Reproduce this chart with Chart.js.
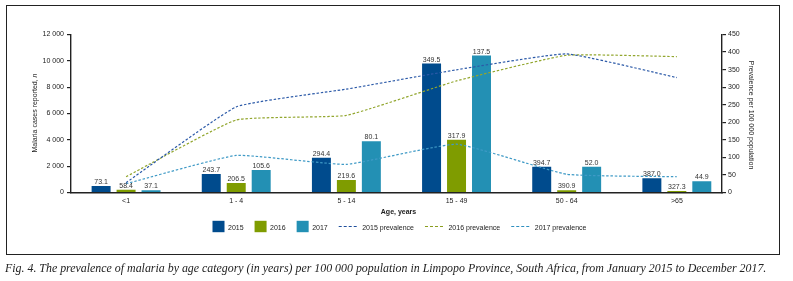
<!doctype html>
<html lang="en">
<head>
    <meta charset="UTF-8">
    <title>Malaria prevalence by age, Limpopo</title>
    <script src="https://cdn.jsdelivr.net/npm/chart.js"></script>
    <style>
        body { margin: 0; background: #fff; }
        #frame { position: absolute; left: 6px; top: 4.5px; width: 774px; height: 250.5px; border: 1.4px solid #222; box-sizing: border-box; }
        #wrap { position: absolute; left: 0; top: 0; width: 793px; height: 281px; }
        #caption { position: absolute; left: 5px; top: 261px; font: italic 11.9px "Liberation Serif", serif; color: #222; white-space: nowrap; }
    </style>
</head>
<body>
    <div id="frame"></div>
    <div id="wrap"><canvas id="malariaChart" width="793" height="281"></canvas></div>
    <div id="caption">Fig. 4. The prevalence of malaria by age category (in years) per 100 000 population in Limpopo Province, South Africa, from January 2015 to December 2017.</div>
    <script>
        const ageGroups = ['<1', '1 - 4', '5 - 14', '15 - 49', '50 - 64', '>65'];

        // cases reported (left axis)
        const cases2015 = [500, 1400, 2630, 9790, 1960, 1090];
        const cases2016 = [200, 730, 940, 4000, 175, 115];
        const cases2017 = [170, 1700, 3900, 10400, 1960, 860];

        // prevalence per 100 000 (right axis)
        const prev2015 = [28, 243.7, 294.4, 349.5, 394.7, 327.3];
        const prev2016 = [45, 206.5, 219.6, 317.9, 390.9, 387.0];
        const prev2017 = [25, 105.6, 80.1, 137.5, 52.0, 44.9];

        // numbers printed above the bars
        const barText2015 = ['73.1', '243.7', '294.4', '349.5', '394.7', '387.0'];
        const barText2016 = ['58.4', '206.5', '219.6', '317.9', '390.9', '327.3'];
        const barText2017 = ['37.1', '105.6', '80.1', '137.5', '52.0', '44.9'];

        const casesTicks = [0, 2000, 4000, 6000, 8000, 10000, 12000];
        const prevTicks = [0, 50, 100, 150, 200, 250, 300, 350, 400, 450];

        const FONT = '"Liberation Sans", Arial, sans-serif';
        const INK = '#222';
        const c2015 = '#004b8d', c2016 = '#7f9c00', c2017 = '#2390b4';

        // widen the category spacing a little so groups sit like the original
        const spacingPlugin = {
            id: 'spacing',
            afterLayout(chart) {
                const s = chart.scales.x;
                s._startValue = -0.5;
                s._valueRange = ageGroups.length - 0.09;
            }
        };

        const extrasPlugin = {
            id: 'extras',
            afterDatasetsDraw(chart) {
                const ctx = chart.ctx;
                ctx.save();
                ctx.font = '7px ' + FONT;
                ctx.fillStyle = '#333';
                ctx.textAlign = 'center';
                ctx.textBaseline = 'bottom';
                [barText2015, barText2016, barText2017].forEach((texts, k) => {
                    const meta = chart.getDatasetMeta(3 + k);
                    meta.data.forEach((bar, i) => ctx.fillText(texts[i], bar.x, bar.y - 0.5));
                });
                ctx.restore();
            },
            afterDraw(chart) {
                const ctx = chart.ctx;
                const area = chart.chartArea;
                ctx.save();
                ctx.fillStyle = INK;

                // x title
                ctx.font = 'bold 7px ' + FONT;
                ctx.textAlign = 'center';
                ctx.textBaseline = 'middle';
                ctx.fillText('Age, years', (area.left + area.right) / 2 + 2, 212);

                // left title
                ctx.save();
                ctx.translate(35, 113);
                ctx.rotate(-Math.PI / 2);
                const t1 = 'Malaria cases reported, ';
                ctx.font = 'italic 7px ' + FONT;
                const wn = ctx.measureText('n').width;
                ctx.font = '7px ' + FONT;
                const w1 = ctx.measureText(t1).width;
                ctx.textAlign = 'left';
                ctx.fillText(t1, -(w1 + wn) / 2, 0);
                ctx.font = 'italic 7px ' + FONT;
                ctx.fillText('n', -(w1 + wn) / 2 + w1, 0);
                ctx.restore();

                // right title
                ctx.save();
                ctx.translate(751, 115);
                ctx.rotate(Math.PI / 2);
                ctx.font = '7px ' + FONT;
                ctx.textAlign = 'center';
                ctx.fillText('Prevalence per 100 000 population', 0, 0);
                ctx.restore();

                // legend
                const items = [
                    { text: '2015', color: c2015, box: true },
                    { text: '2016', color: c2016, box: true },
                    { text: '2017', color: c2017, box: true },
                    { text: '2015 prevalence', color: '#1f4f9c', box: false },
                    { text: '2016 prevalence', color: '#8a9e1e', box: false },
                    { text: '2017 prevalence', color: '#2e8fbf', box: false }
                ];
                ctx.font = '7px ' + FONT;
                ctx.textAlign = 'left';
                const gap = 11;
                let total = 0;
                items.forEach(it => {
                    it.w = (it.box ? 12 : 20) + 3.5 + ctx.measureText(it.text).width;
                    total += it.w;
                });
                total += gap * (items.length - 1);
                let x = (area.left + area.right) / 2 + 3 - total / 2;
                const ly = 226.5;
                items.forEach(it => {
                    if (it.box) {
                        ctx.fillStyle = it.color;
                        ctx.fillRect(x, ly - 5.7, 12, 11.4);
                        x += 12;
                    } else {
                        ctx.strokeStyle = it.color;
                        ctx.lineWidth = 1.2;
                        ctx.setLineDash([3, 2]);
                        ctx.beginPath();
                        ctx.moveTo(x, ly);
                        ctx.lineTo(x + 20, ly);
                        ctx.stroke();
                        ctx.setLineDash([]);
                        x += 20;
                    }
                    x += 3.5;
                    ctx.fillStyle = INK;
                    ctx.fillText(it.text, x, ly + 1.5);
                    x += ctx.measureText(it.text).width + gap;
                });
                ctx.restore();
            }
        };

        function prevLine(label, data, color) {
            return {
                type: 'line',
                label: label,
                data: data,
                yAxisID: 'y1',
                borderColor: color,
                borderWidth: 1.2,
                borderDash: [2.5, 1.8],
                pointRadius: 0,
                tension: 0.12,
                fill: false,
                order: 0
            };
        }

        function caseBars(label, data, color) {
            return {
                type: 'bar',
                label: label,
                data: data,
                yAxisID: 'y',
                backgroundColor: color,
                categoryPercentage: 0.68,
                barPercentage: 0.76,
                order: 1
            };
        }

        const ctx = document.getElementById('malariaChart').getContext('2d');
        new Chart(ctx, {
            data: {
                labels: ageGroups,
                datasets: [
                    prevLine('2015 prevalence', prev2015, '#2c5aa8'),
                    prevLine('2016 prevalence', prev2016, '#92a62e'),
                    prevLine('2017 prevalence', prev2017, '#3f9ac6'),
                    caseBars('2015', cases2015, c2015),
                    caseBars('2016', cases2016, c2016),
                    caseBars('2017', cases2017, c2017)
                ]
            },
            options: {
                responsive: false,
                animation: false,
                layout: { padding: { top: 34.5, left: 0, right: 0, bottom: 0 } },
                plugins: {
                    legend: { display: false },
                    tooltip: { enabled: false }
                },
                scales: {
                    x: {
                        grid: { display: false, drawTicks: false },
                        border: { color: INK, width: 1.4 },
                        ticks: { color: INK, font: { family: FONT, size: 7 }, padding: 4, maxRotation: 0 },
                        afterFit(scale) { scale.height = 88.5; }
                    },
                    y: {
                        position: 'left',
                        min: 0,
                        max: 12000,
                        afterBuildTicks(scale) { scale.ticks = casesTicks.map(v => ({ value: v })); },
                        grid: { drawOnChartArea: false, tickLength: 4, color: INK, lineWidth: 1.2 },
                        border: { color: INK, width: 1.4 },
                        ticks: {
                            color: INK,
                            padding: 3,
                            font: { family: FONT, size: 7 },
                            callback: v => v >= 1000 ? Math.floor(v / 1000) + ' ' + String(v % 1000).padStart(3, '0') : String(v)
                        },
                        afterFit(scale) { scale.width = 71; }
                    },
                    y1: {
                        position: 'right',
                        min: 0,
                        max: 450,
                        afterBuildTicks(scale) { scale.ticks = prevTicks.map(v => ({ value: v })); },
                        grid: { drawOnChartArea: false, tickLength: 4, color: INK, lineWidth: 1.2 },
                        border: { color: INK, width: 1.4 },
                        ticks: { color: INK, padding: 2, font: { family: FONT, size: 7 } },
                        afterFit(scale) { scale.width = 71; }
                    }
                }
            },
            plugins: [spacingPlugin, extrasPlugin]
        });
    </script>
</body>
</html>
